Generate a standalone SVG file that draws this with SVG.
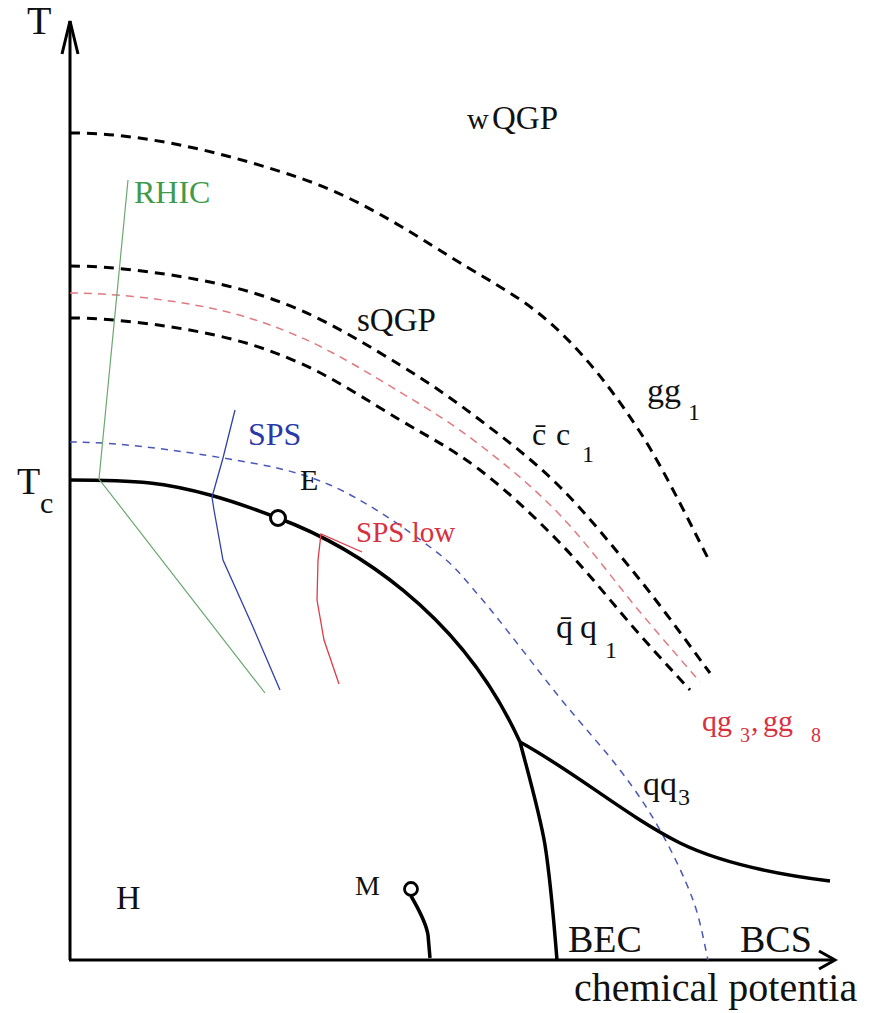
<svg xmlns="http://www.w3.org/2000/svg" width="871" height="1013" viewBox="0 0 871 1013">
<style>
text{font-family:"Liberation Serif","Times New Roman",serif;fill:#111}
.ax{fill:none;stroke:#000;stroke-width:3}
.hd{fill:none;stroke:#000;stroke-width:3;stroke-dasharray:10 7}
.rd{fill:none;stroke:#e07a80;stroke-width:1.5;stroke-dasharray:8 6}
.bd{fill:none;stroke:#4a58b8;stroke-width:1.5;stroke-dasharray:7 6}
.sol{fill:none;stroke:#000;stroke-width:3.5;stroke-linejoin:round}
.red{fill:#d83040}
.sub{font-size:24px}
</style>
<rect width="871" height="1013" fill="#fff"/>
<g id="connectors">
  <path class="ax" d="M70,960 L70,21"/>
  <path class="ax" d="M62,54 L70,21 L78,54"/>
  <path class="ax" d="M69,960 L834,960"/>
  <path class="ax" d="M819,951 L835,960 L819,969"/>
  <path class="hd" d="M70,133 C150,133 233.8,155.7 300,178 C366.2,200.3 423.7,241.3 467,267 C510.3,292.7 531.2,304.5 560,332 C588.8,359.5 615,393.7 640,432 C665,470.3 698.3,540.3 710,562"/>
  <path class="hd" d="M70,266 C110,266 161.7,272.7 200,280 C238.3,287.3 266.7,295.8 300,310 C333.3,324.2 370,346.7 400,365 C430,383.3 453.3,399.7 480,420 C506.7,440.3 533.3,460.3 560,487 C586.7,513.7 615,549 640,580 C665,611 698.3,657.5 710,673"/>
  <path class="rd" d="M70,293 C110,293 161.7,298.7 200,306 C238.3,313.3 266.7,322.7 300,337 C333.3,351.3 370,374 400,392 C430,410 453.3,424.5 480,445 C506.7,465.5 533.3,487.2 560,515 C586.7,542.8 616.7,584.2 640,612 C663.3,639.8 690,670.3 700,682"/>
  <path class="hd" d="M70,318 C110,318 161.7,324.5 200,332 C238.3,339.5 266.7,348.3 300,363 C333.3,377.7 370,402.2 400,420 C430,437.8 453.3,449.5 480,470 C506.7,490.5 533.3,515.5 560,543 C586.7,570.5 618.3,610.5 640,635 C661.7,659.5 681.7,680.8 690,690"/>
  <path class="bd" d="M70,442 C120,442 179.7,450.8 223,458 C266.3,465.2 295.5,470.2 330,485 C364.5,499.8 405,528.3 430,547 C455,565.7 458.3,571.8 480,597 C501.7,622.2 536.7,669.2 560,698 C583.3,726.8 603.3,748 620,770 C636.7,792 647.8,808.3 660,830 C672.2,851.7 685,878.3 693,900 C701,921.7 705.5,950 708,960"/>
  <path class="sol" d="M70,480 C110,480 126.7,480.5 150,483 C173.3,485.5 188.7,489.2 210,495 C231.3,500.8 259.7,511 278,518 C350,545 460,610 520,742"/>
  <path class="sol" d="M520,742 C530,780 540,815 545,845 C549,870 553,910 557,960"/>
  <path class="sol" d="M520,742 C575,772 625,815 680,843 C725,865 790,876 830,881"/>
  <path d="M128,180 L99,479 L265,693" fill="none" stroke="#6aa870" stroke-width="1.2"/>
  <path d="M235,410 L223,458 L212,497 L214,510 L223,560 L253,627 L280,690" fill="none" stroke="#3040a8" stroke-width="1.3"/>
  <path d="M362,552 L321,534 L318,560 L317,600 L324,640 L339,684" fill="none" stroke="#e03a48" stroke-width="1.3"/>
  <path class="sol" d="M411,896 C418,908 426,922 428,935 L430,958" stroke-width="3"/>
</g>
<g id="point-E"><circle cx="278" cy="518" r="7.5" fill="#fff" stroke="#000" stroke-width="3"/></g>
<g id="point-M"><circle cx="411" cy="889" r="6.5" fill="#fff" stroke="#000" stroke-width="2.8"/></g>
<g id="label-T"><text x="27" y="34" font-size="40">T</text></g>
<g id="label-Tc"><text x="17" y="494" font-size="38">T</text><text x="40" y="513" font-size="30">c</text></g>
<g id="label-wQGP"><text x="467" y="129" font-size="30">w<tspan x="492" font-size="33">QGP</tspan></text></g>
<g id="label-RHIC"><text x="134" y="203" font-size="32" style="fill:#3f9a4c">RHIC</text></g>
<g id="label-sQGP"><text x="357" y="331" font-size="33">sQGP</text></g>
<g id="label-gg1"><text x="647" y="402" font-size="34">gg</text><text x="688" y="420" class="sub">1</text></g>
<g id="label-cc1"><text x="532" y="445" font-size="32">c&#x304;</text><text x="556" y="445" font-size="32">c</text><text x="582" y="462" class="sub">1</text></g>
<g id="label-SPS"><text x="248" y="445" font-size="32" style="fill:#2a38a8">SPS</text></g>
<g id="label-E"><text x="300" y="490" font-size="30">E</text></g>
<g id="label-SPSlow"><text x="356" y="542" font-size="29" class="red">SPS low</text></g>
<g id="label-qq1"><text x="556" y="638" font-size="34">q&#x304;</text><text x="580" y="638" font-size="34">q</text><text x="605" y="658" class="sub">1</text></g>
<g id="label-qg3gg8"><text x="702" y="731" font-size="30" class="red">qg<tspan x="740" y="742" font-size="20">3</tspan><tspan x="751" y="731">,</tspan><tspan x="763" y="731">gg</tspan><tspan x="811" y="742" font-size="20">8</tspan></text></g>
<g id="label-qq3"><text x="643" y="795" font-size="34">qq</text><text x="678" y="805" class="sub">3</text></g>
<g id="label-M"><text x="355" y="895" font-size="28">M</text></g>
<g id="label-H"><text x="116" y="909" font-size="34">H</text></g>
<g id="label-BEC"><text x="568" y="952" font-size="38">BEC</text></g>
<g id="label-BCS"><text x="740" y="952" font-size="38">BCS</text></g>
<g id="label-axis-x"><text x="574" y="1001" font-size="40">chemical potentia</text></g>
</svg>
